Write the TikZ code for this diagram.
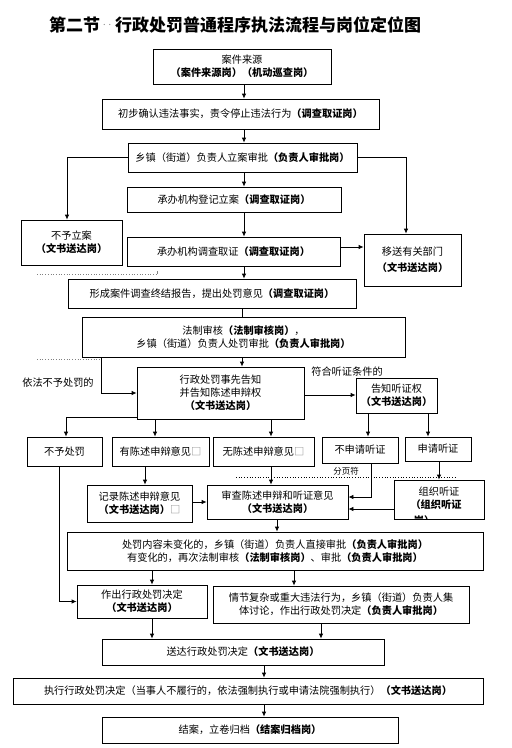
\documentclass[tikz,border=0pt]{standalone}
\usepackage{fontspec}
\setmainfont{Noto Sans CJK SC}
\usetikzlibrary{arrows.meta,calc}
\newcommand\fs{\fontsize{10.2}{13}\selectfont}
\newcommand\sq{\textcolor{gray}{□}}
\newcommand\spdots{\hspace{3pt}\raisebox{6.5pt}{\textcolor{gray}{\fontsize{9}{9}\selectfont\mdseries .\hspace{3pt}.}}\hspace{4pt}}
\tikzset{
  bx/.style={draw, line width=0.8pt, rectangle, inner sep=0pt, align=center, font=\fs},
  arr/.style={-{Latex[length=5pt,width=4.5pt]}, line width=0.8pt},
  ln/.style={line width=0.8pt},
  lab/.style={font=\fs, inner sep=0pt},
  pgbrk/.style={dotted, line width=0.7pt},
}
\begin{document}
\begin{tikzpicture}[x=1pt,y=-1pt]
\useasboundingbox[fill=white] (0,0) rectangle (512,748);
% title
\node[anchor=west, inner sep=0pt, font=\fontsize{17}{19}\selectfont\bfseries] (title) at (49,25)
  {第二节\spdots 行政处罚普通程序执法流程与岗位定位图};
% boxes
\node[bx, minimum width=178pt, minimum height=35pt] (B1) at (242,66.5) {案件来源\\\textbf{（案件来源岗）（机动巡查岗）}};
\node[bx, minimum width=277pt, minimum height=30pt] (B2) at (240.5,114) {初步确认违法事实，责令停止违法行为\textbf{（调查取证岗）}};
\node[bx, minimum width=229pt, minimum height=29pt] (B3) at (242.5,157.5) {乡镇（街道）负责人立案审批\textbf{（负责人审批岗）}};
\node[bx, minimum width=214pt, minimum height=25pt] (B4) at (234,199.5) {承办机构登记立案\textbf{（调查取证岗）}};
\node[bx, minimum width=101pt, minimum height=45pt] (Bno) at (71.5,242.5) {不予立案\\\textbf{（文书送达岗）}};
\node[bx, minimum width=213pt, minimum height=29pt] (B5) at (233.5,251.5) {承办机构调查取证\textbf{（调查取证岗）}};
\node[bx, minimum width=97pt, minimum height=52pt] (Bmove) at (412.5,260) {移送有关部门\\[3pt]\textbf{（文书送达岗）}};
\node[bx, minimum width=288pt, minimum height=29pt] (B6) at (212,293.5) {形成案件调查终结报告，提出处罚意见\textbf{（调查取证岗）}};
\node[bx, minimum width=323pt, minimum height=40pt] (B7) at (243.5,337) {法制审核\textbf{（法制审核岗）}，\\乡镇（街道）负责人处罚审批\textbf{（负责人审批岗）}};
\node[bx, minimum width=167pt, minimum height=52pt] (B8) at (220.5,393) {行政处罚事先告知\\并告知陈述申辩权\\\textbf{（文书送达岗）}};
\node[bx, minimum width=81pt, minimum height=35pt] (B9) at (396.5,395.5) {告知听证权\\\textbf{（文书送达岗）}};
\node[bx, minimum width=75pt, minimum height=29pt] (Bnp) at (64.5,451.5) {不予处罚};
\node[bx, minimum width=97pt, minimum height=29pt] (Byes) at (160.5,451.5) {有陈述申辩意见\sq};
\node[bx, minimum width=101pt, minimum height=29pt] (Bnone) at (263.5,451.5) {无陈述申辩意见\sq};
\node[bx, minimum width=76pt, minimum height=26pt] (Bnoh) at (360,450) {不申请听证};
\node[bx, minimum width=66pt, minimum height=24pt] (Bh) at (438,449) {申请听证};
\node[bx, minimum width=105pt, minimum height=37pt] (Brec) at (139.5,503.5) {记录陈述申辩意见\\\textbf{（文书送达岗）}\sq};
\node[bx, minimum width=141pt, minimum height=34pt] (Brev) at (277.5,502) {审查陈述申辩和听证意见\\\textbf{（文书送达岗）}};
\node[bx, minimum width=90pt, minimum height=39pt] (Borg) at (439,499.5) {};
\begin{scope}
  \clip (Borg.north west) rectangle (Borg.south east);
  \node[lab] (Borg1) at (439,492) {组织听证};
  \node[lab] (Borg2) at (436,505) {\textbf{（组织听证}};
  \node[lab] (Borg3) at (424,521) {\textbf{岗）}};
\end{scope}
\node[bx, minimum width=416pt, minimum height=38pt] (B10) at (275,551) {处罚内容未变化的，乡镇（街道）负责人直接审批\textbf{（负责人审批岗）}\\有变化的，再次法制审核\textbf{（法制审核岗）}、审批\textbf{（负责人审批岗）}};
\node[bx, minimum width=130pt, minimum height=33pt] (B11) at (142,601.5) {作出行政处罚决定\\\textbf{（文书送达岗）}};
\node[bx, minimum width=256pt, minimum height=37pt] (B12) at (341,604.5) {情节复杂或重大违法行为，乡镇（街道）负责人集\\体讨论，作出行政处罚决定\textbf{（负责人审批岗）}};
\node[bx, minimum width=282pt, minimum height=26pt] (B13) at (243,652) {送达行政处罚决定\textbf{（文书送达岗）}};
\node[bx, minimum width=470pt, minimum height=26pt] (B14) at (248,691) {执行行政处罚决定（当事人不履行的，依法强制执行或申请法院强制执行）\textbf{（文书送达岗）}};
\node[bx, minimum width=296pt, minimum height=26pt] (B15) at (250,730) {结案，立卷归档\textbf{（结案归档岗）}};
% labels
\node[lab] (Lno) at (58,383) {依法不予处罚的};
\node[lab] (Lh) at (347,372) {符合听证条件的};
\node[lab, font=\fontsize{8.5}{10}\selectfont] (Lpg) at (346,471) {分页符};
% dotted marks
\draw[dotted, gray, line width=0.7pt] (37,274) -- (157,274);
\draw[gray, line width=0.4pt] (157,271) -- (157,274);
\draw[dotted, gray, line width=0.7pt] (37,359) -- (100,359);
\draw[pgbrk] (236,477) -- (457,477);
% column / row helpers
\foreach \n in {59,66,67,101,145,152,155,242,244,264,271,277,294,321,368,371,406,428,439}{\coordinate (k\n) at (\n,0);}
\foreach \n in {247,395,417,497,502,509}{\coordinate (r\n) at (0,\n);}
% connectors
\draw[arr] (B1.south -| k244) -- (B2.north -| k244);
\draw[arr] (B2.south -| k244) -- (B3.north -| k244);
\draw[arr] (B3.west) -| (Bno.north -| k67);
\draw[arr] (B3.east) -| (Bmove.north -| k406);
\draw[arr] (B3.south -| k244) -- (B4.north -| k244);
\draw[arr] (B4.south -| k244) -- (B5.north -| k244);
\draw[arr] (B5.east |- r247) -- (Bmove.west |- r247);
\draw[arr] (B5.south -| k244) -- (B6.north -| k244);
\draw[ln] (B6.south -| k242) -- (B7.north -| k242);
\draw[arr] (B7.south -| k242) -- (B8.north -| k242);
\draw[arr] (B7.south -| k101) |- (B8.west);
\draw[arr] (B8.east |- r395) -- (B9.west |- r395);
\draw[arr] (B8.west |- r417) -| (Bnp.north -| k66);
\draw[arr] (B8.south -| k155) -- (Byes.north -| k155);
\draw[arr] (B8.south -| k271) -- (Bnone.north -| k271);
\draw[arr] (B9.south -| k368) -- (Bnoh.north -| k368);
\draw[arr] (B9.south -| k428) -- (Bh.north -| k428);
\draw[arr] (Bnp.south -| k59) |- (B11.west);
\draw[arr] (Byes.south -| k145) -- (Brec.north -| k145);
\draw[arr] (Bnone.south -| k271) -- (Brev.north -| k271);
\draw[arr] (Bnoh.south -| k371) |- (Brev.east |- r497);
\draw[arr] (Bh.south -| k439) -- (Borg.north -| k439);
\draw[arr] (Brec.east |- r502) -- (Brev.west |- r502);
\draw[arr] (Borg.west |- r509) -- (Brev.east |- r509);
\draw[arr] (Brev.south -| k277) -- (B10.north -| k277);
\draw[arr] (B10.south -| k152) -- (B11.north -| k152);
\draw[arr] (B10.south -| k294) -- (B12.north -| k294);
\draw[arr] (B11.south -| k152) -- (B13.north -| k152);
\draw[arr] (B12.south -| k321) -- (B13.north -| k321);
\draw[arr] (B13.south -| k264) -- (B14.north -| k264);
\draw[arr] (B14.south -| k264) -- (B15.north -| k264);
\end{tikzpicture}
\end{document}
